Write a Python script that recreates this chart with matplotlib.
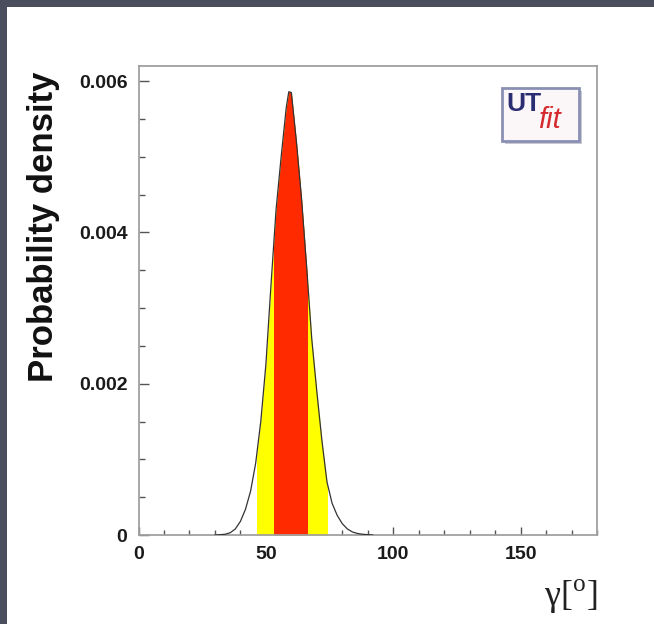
import matplotlib
matplotlib.use("Agg")
import matplotlib.pyplot as plt
from matplotlib.patches import Rectangle
from matplotlib.ticker import MultipleLocator, FixedFormatter, FixedLocator

# gamma [deg] and probability density
gamma = [30, 34, 36, 38, 40, 42, 44, 46, 48, 50, 52, 54, 56, 58, 59, 60,
         62, 64, 66, 68, 70, 72, 74, 76, 78, 80, 82, 84, 86, 88, 92]
density = [0.0, 0.00001, 0.00003, 0.00008, 0.00018, 0.00034, 0.00058, 0.00095,
           0.00150, 0.00225, 0.00330, 0.00430, 0.00500, 0.00565, 0.00586, 0.00585,
           0.00520, 0.00445, 0.00355, 0.00260, 0.00190, 0.00125, 0.00070, 0.00042,
           0.00026, 0.00015, 0.00008, 0.00004, 0.00002, 0.00001, 0.0]

band95 = (46.7, 74.0)   # yellow
band68 = (53.3, 66.2)   # red

yticks = [0, 0.002, 0.004, 0.006]
ytick_labels = ["0", "0.002", "0.004", "0.006"]
xticks = [0, 50, 100, 150]
xtick_labels = ["0", "50", "100", "150"]

plt.rcParams['font.family'] = ['Liberation Sans', 'DejaVu Sans']
plt.rcParams['mathtext.fontset'] = 'custom'
plt.rcParams['mathtext.rm'] = 'Liberation Serif'

fig = plt.figure(figsize=(6.54, 6.24), dpi=100)
fig.patch.set_facecolor('white')
# dark slide border on top and left
slate = '#4b4f5d'
fig.patches.append(Rectangle((0, 1 - 7 / 624), 1, 7 / 624, transform=fig.transFigure,
                             facecolor=slate, edgecolor='none'))
fig.patches.append(Rectangle((0, 0), 7 / 654, 1, transform=fig.transFigure,
                             facecolor=slate, edgecolor='none'))

ax = fig.add_axes([0.2118, 0.1426, 0.701, 0.7516])
ax.set_facecolor('white')

# shaded bands, clipped to the interval in data coords
for (lo, hi), col in [(band95, '#ffff00'), (band68, '#ff2a00')]:
    poly = ax.fill_between(gamma, 0, density, color=col, linewidth=0, zorder=2)
    clip = Rectangle((lo, 0), hi - lo, 1, transform=ax.transData)
    poly.set_clip_path(clip)

ax.plot(gamma, density, color='#333333', lw=0.9, zorder=3)

ax.set_xlim(0, 180)
ax.set_ylim(0, 0.0062)

ax.xaxis.set_major_locator(FixedLocator(xticks))
ax.xaxis.set_major_formatter(FixedFormatter(xtick_labels))
ax.xaxis.set_minor_locator(MultipleLocator(10))
ax.yaxis.set_major_locator(FixedLocator(yticks))
ax.yaxis.set_major_formatter(FixedFormatter(ytick_labels))
ax.yaxis.set_minor_locator(MultipleLocator(0.0005))

ax.tick_params(axis='both', which='both', direction='in', color='#555555',
               labelcolor='#1a1a1a', labelsize=14)
ax.tick_params(axis='x', which='major', length=6, width=1, pad=8)
ax.tick_params(axis='x', which='minor', length=3.5, width=1)
ax.tick_params(axis='y', which='major', length=7, width=1, pad=8)
ax.tick_params(axis='y', which='minor', length=4, width=1)
for lab in ax.get_xticklabels() + ax.get_yticklabels():
    lab.set_fontweight('bold')

for s in ax.spines.values():
    s.set_color('#a0a0a0')
    s.set_linewidth(1.3)

fig.text(44 / 654, 0.636, 'Probability density', rotation=90, ha='center', va='center',
         fontsize=25, fontweight='bold', color='#111111')
fig.text(597 / 654, (624 - 616) / 624, r'γ[$^{\rm o}$]', ha='right', va='bottom',
         fontsize=26, family='Liberation Serif', color='#222222')

# UTfit logo
lx, ly, lw_, lh = 502 / 654, (624 - 141) / 624, 77 / 654, 53 / 624
fig.patches.append(Rectangle((lx + 0.004, ly - 0.005), lw_, lh, transform=fig.transFigure,
                             facecolor='#c8c8d0', edgecolor='none', zorder=4))
fig.patches.append(Rectangle((lx, ly), lw_, lh, transform=fig.transFigure,
                             facecolor='#fbf6f7', edgecolor='#8a90b4', lw=2, zorder=5))
fig.text(506 / 654, (624 - 111) / 624, 'UT', fontsize=19, fontweight='bold',
         color='#2b2d72', ha='left', va='baseline', zorder=6)
fig.text(538 / 654, (624 - 128) / 624, 'fit', fontsize=21, style='italic',
         color='#d42a2e', ha='left', va='baseline', zorder=6)

fig.savefig('out.png', dpi=100, facecolor=fig.get_facecolor())
